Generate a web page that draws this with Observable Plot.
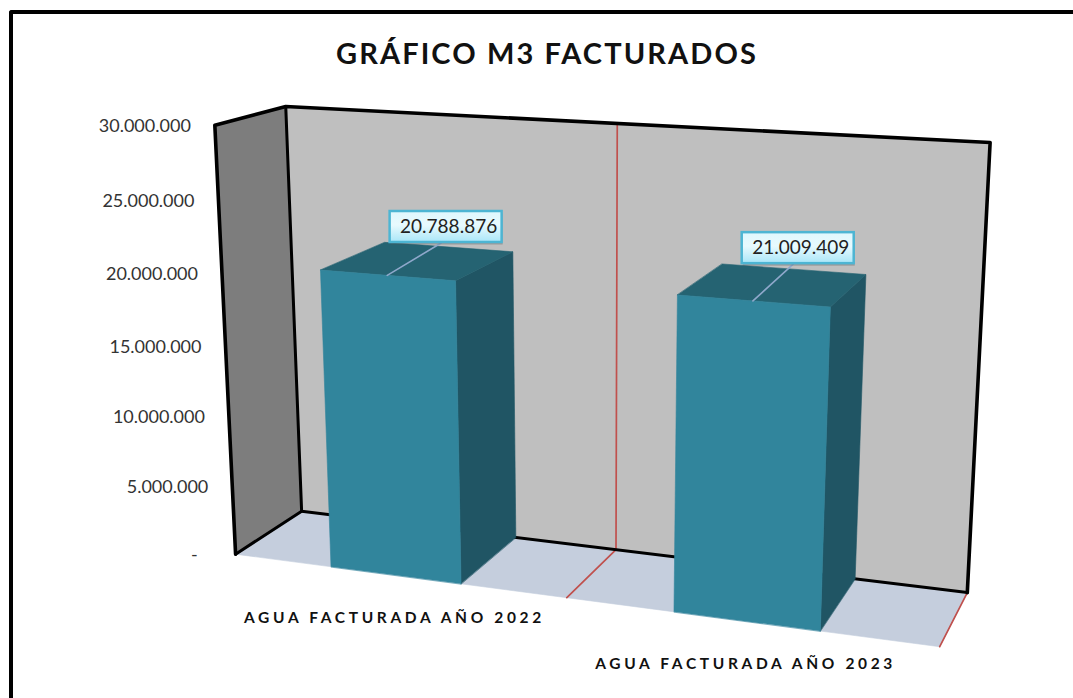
<!DOCTYPE html>
<html lang="es">
<head>
<meta charset="utf-8">
<script src="https://cdn.jsdelivr.net/npm/d3@7"></script>
<script src="https://cdn.jsdelivr.net/npm/@observablehq/plot@0.6"></script>
<style>
html,body{margin:0;padding:0;background:#fff;overflow:hidden;width:1073px;height:698px}
figure{margin:0!important}
h2{margin:0;height:90px;box-sizing:border-box;padding-left:21px;line-height:106px;text-align:center;font:700 29px/106px Lato,sans-serif;letter-spacing:2.1px;color:#111}
#frame{position:absolute;left:9px;top:10px;width:1200px;height:900px;border-top:4px solid #000;border-left:4px solid #000;border-top-left-radius:3px;box-shadow:0 1px 0 #999;pointer-events:none}
g[font-weight="bold"] text{letter-spacing:3.65px}
</style>
</head>
<body>
<div id="chart"></div>
<div id="frame"></div>
<script>
// ---- data ----
const categories = ["AGUA FACTURADA AÑO 2022", "AGUA FACTURADA AÑO 2023"];
const values = [20788876, 21009409];
const tickValues = [0, 5000000, 10000000, 15000000, 20000000, 25000000, 30000000];
const axisMax = 30000000;

// ---- 3D scene: u = category units, v = share of axis, w = depth ----
const barStart = 0.30, barEnd = 0.693;
const cameraAnchors = [
  [0,0,0,235,553],[0,1,0,215,125],[0,0,1,302,512],[0,1,1,285,104],
  [2,1,1,990,142],[2,0,1,967,591],[2,0,0,940,646],
  [1,1,1,616,125],[1,0,1,615,549],[1,0,0,565,598]
];
function solveCamera(anchors){
  const A=[],b=[];
  for(const [u,v,w,x0,y0] of anchors){
    const x=x0/1000,y=y0/1000;
    A.push([u,v,w,1,0,0,0,0,-x*u,-x*v,-x*w]);b.push(x);
    A.push([0,0,0,0,u,v,w,1,-y*u,-y*v,-y*w]);b.push(y);
  }
  const n=11,M=[];
  for(let i=0;i<n;i++){
    const r=[];
    for(let j=0;j<n;j++) r.push(d3.sum(A,a=>a[i]*a[j]));
    r.push(d3.sum(A,(a,k)=>a[i]*b[k]));
    M.push(r);
  }
  for(let i=0;i<n;i++){
    let p=i;
    for(let k=i+1;k<n;k++) if(Math.abs(M[k][i])>Math.abs(M[p][i])) p=k;
    [M[i],M[p]]=[M[p],M[i]];
    for(let k=0;k<n;k++){
      if(k===i) continue;
      const f=M[k][i]/M[i][i];
      for(let j=i;j<=n;j++) M[k][j]-=f*M[i][j];
    }
  }
  return M.map((r,i)=>r[n]/r[i]);
}
const cam = solveCamera(cameraAnchors);
function project(u,v,w){
  const d=cam[8]*u+cam[9]*v+cam[10]*w+1;
  return {
    sx:1000*(cam[0]*u+cam[1]*v+cam[2]*w+cam[3])/d,
    sy:1000*(cam[4]*u+cam[5]*v+cam[6]*w+cam[7])/d
  };
}
const share = d => d/axisMax;
const face = (id,corners) => corners.map(([u,v,w])=>({id,...project(u,v,w)}));
const poly = (pts,color) => Plot.line(pts,{x:"sx",y:"sy",z:"id",fill:color,stroke:color,strokeWidth:0.6,curve:"linear-closed"});

const floor = face("floor",[[0,0,0],[2,0,0],[2,0,1],[0,0,1]]);
const leftWall = face("left",[[0,0,0],[0,1,0],[0,1,1],[0,0,1]]);
const backWall = face("back",[[0,0,1],[0,1,1],[2,1,1],[2,0,1]]);
const redLines = [
  ...face("g1",[[1,1,1],[1,0,1],[1,0,0]]),
  ...face("g2",[[2,0,1],[2,0,0]])
];
const outlineHeavy = face("o1",[[0,0,0],[0,1,0],[0,1,1],[2,1,1],[2,0,1]]);
const outlineThin = [
  ...face("o2",[[0,1,1],[0,0,1],[2,0,1]]),
  ...face("o3",[[0,0,0],[0,0,1]])
];

// small nudge of each value callout away from its bar's back edge
const calloutNudge = [[-7,-4],[0,-5]];
const bars = values.map((val,i)=>{
  const a=i+barStart,b=i+barEnd,h=share(val),c=i+(barStart+barEnd)/2;
  const back=project(c,h,1);
  const anchor={id:"l"+i,sx:back.sx+calloutNudge[i][0],sy:back.sy+calloutNudge[i][1]};
  return {
    side:face("s"+i,[[b,0,0],[b,h,0],[b,h,1],[b,0,1]]),
    top:face("t"+i,[[a,h,0],[b,h,0],[b,h,1],[a,h,1]]),
    front:face("f"+i,[[a,0,0],[a,h,0],[b,h,0],[b,0,0]]),
    leader:[...face("l"+i,[[c,h,0]]),anchor],
    anchor,val
  };
});
const es = d3.formatLocale({decimal:",",thousands:".",grouping:[3],currency:["",""]});
const fmt = es.format(",d");
const tickRows = tickValues.map(t=>({label:t===0?"-\u00a0\u00a0\u00a0":fmt(t),...project(0,share(t),0)}));
const catRows = categories.map((c,i)=>({label:c,...project(i+0.5,0,0)}));
const labelRows = bars.map(b=>({label:fmt(b.val),cx:b.anchor.sx+5,cy:b.anchor.sy-16}));

const defs = () => {
  const d = d3.create("svg:defs");
  const g = d.append("linearGradient").attr("id","lab").attr("x1",0).attr("y1",0).attr("x2",0).attr("y2",1);
  g.append("stop").attr("offset","0").attr("stop-color","#DFF7FD");
  g.append("stop").attr("offset","0.45").attr("stop-color","#E8FAFE");
  g.append("stop").attr("offset","1").attr("stop-color","#A9E6F8");
  return d.node();
};
const boxW=112,boxH=31;
const chart = Plot.plot({
  title:"GRÁFICO M3 FACTURADOS",
  width:1073,height:608,
  marginTop:0,marginRight:0,marginBottom:0,marginLeft:0,
  style:{background:"transparent",overflow:"visible"},
  x:{domain:[0,1073],range:[0,1073],axis:null},
  y:{domain:[90,698],range:[0,608],axis:null},
  marks:[
    defs,
    poly(floor,"#C5CEDD"),
    poly(leftWall,"#7D7D7D"),
    poly(backWall,"#BFBFBF"),
    Plot.line(redLines,{x:"sx",y:"sy",z:"id",stroke:"#C0504D",strokeWidth:1.7}),
    Plot.line(outlineThin,{x:"sx",y:"sy",z:"id",stroke:"#000",strokeWidth:3}),
    Plot.line(outlineHeavy,{x:"sx",y:"sy",z:"id",stroke:"#000",strokeWidth:3.6,strokeLinejoin:"round"}),
    ...bars.flatMap(b=>[poly(b.side,"#205564"),poly(b.top,"#256372"),poly(b.front,"#31859C"),
      Plot.line(b.leader,{x:"sx",y:"sy",z:"id",stroke:"#8FA8CB",strokeWidth:1.6})]),
    Plot.rect(labelRows,{x1:d=>d.cx-boxW/2,x2:d=>d.cx+boxW/2,y1:d=>d.cy-boxH/2,y2:d=>d.cy+boxH/2,fill:"#555",fillOpacity:0.35,dx:1,dy:2.5}),
    Plot.rect(labelRows,{x1:d=>d.cx-boxW/2,x2:d=>d.cx+boxW/2,y1:d=>d.cy-boxH/2,y2:d=>d.cy+boxH/2,fill:"url(#lab)",stroke:"#4DB5D3",strokeWidth:2.5}),
    Plot.text(labelRows,{x:d=>d.cx+2.5,y:"cy",text:"label",fontFamily:"Lato,sans-serif",fontSize:19,fill:"#222"}),
    Plot.text(tickRows,{x:"sx",y:"sy",text:"label",textAnchor:"end",dx:-24,dy:1,fontFamily:"Lato,sans-serif",fontSize:18,fill:"#333"}),
    Plot.text(catRows,{x:"sx",y:"sy",text:"label",dx:-2,dy:43,fontFamily:"Lato,sans-serif",fontSize:15.5,fontWeight:"bold",fill:"#111"})
  ]
});
document.getElementById("chart").appendChild(chart);
</script>
</body>
</html>
